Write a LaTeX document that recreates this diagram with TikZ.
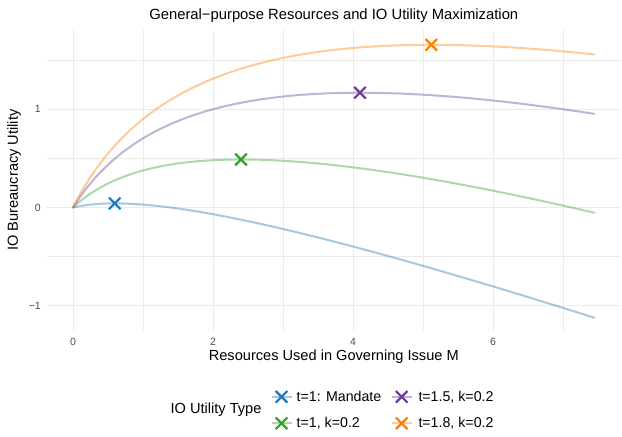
\documentclass[tikz,border=0pt]{standalone}
\usepackage{fontspec}
\setmainfont{Liberation Sans}
\begin{document}
\begin{tikzpicture}[x=1pt, y=-1pt,
  gridmajor/.style={draw=black!8, line width=0.9pt},
  gridminor/.style={draw=black!8, line width=0.5pt},
  ticklbl/.style={text=black!70, font=\fontsize{10.5}{11}\selectfont, inner sep=0pt},
  axtitle/.style={font=\fontsize{14.6}{16}\selectfont, inner sep=0pt},
  curve/.style={line width=2pt, draw opacity=0.4, line cap=round},
  legtxt/.style={font=\fontsize{14.2}{16}\selectfont, inner sep=0pt, anchor=west},
  xmark/.pic={\draw[line width=2.2pt, #1] (-5.8,-5.8) -- (5.8,5.8) (-5.8,5.8) -- (5.8,-5.8);},
]
\definecolor{cblue}{HTML}{1F78B4}
\definecolor{cgreen}{HTML}{33A02C}
\definecolor{cpurple}{HTML}{6A3D9A}
\definecolor{corange}{HTML}{FF7F00}
\useasboundingbox (0,0) rectangle (622,437);
\fill[white] (0,0) rectangle (622,437);

% data-to-page mapping: M -> 73+70M, U -> 207.5-98.3U
\def\px#1{73+70*(#1)}
\def\py#1{207.5-98.3*(#1)}

% grid
\foreach \m in {1,3,5,7} \draw[gridminor] ({\px{\m}},29.6) -- ({\px{\m}},331);
\foreach \u in {-0.5,0.5,1.5} \draw[gridminor] (47,{\py{\u}}) -- (620.6,{\py{\u}});
\foreach \m in {0,2,4,6} \draw[gridmajor] ({\px{\m}},29.6) -- ({\px{\m}},331);
\foreach \u in {-1,0,1} \draw[gridmajor] (47,{\py{\u}}) -- (620.6,{\py{\u}});

% tick labels
\foreach \m in {0,2,4,6} \node[ticklbl] (xt\m) at ({\px{\m}},341.5) {\m};
\node[ticklbl, anchor=east] (yt1) at (41,{\py{1}}) {1};
\node[ticklbl, anchor=east] (yt0) at (41,{\py{0}}) {0};
\node[ticklbl, anchor=east] (ytm1) at (41,{\py{-1}}) {−1};

% utility curves
\draw[curve, cblue]   plot[domain=0:7.45, samples=120, smooth] ({\px{\x}},{\py{0.443*ln(1+\x)-0.2775*\x}});
\draw[curve, cgreen]  plot[domain=0:7.45, samples=120, smooth] ({\px{\x}},{\py{0.9435*ln(1+\x)-0.2775*\x}});
\draw[curve, cpurple] plot[domain=0:7.45, samples=120, smooth] ({\px{\x}},{\py{1.415*ln(1+\x)-0.2775*\x}});
\draw[curve, corange] plot[domain=0:7.45, samples=120, smooth] ({\px{\x}},{\py{1.698*ln(1+\x)-0.2775*\x}});

% optimum markers
\coordinate (optblue)   at ({\px{0.596}},{\py{0.443*ln(1.596)-0.2775*0.596}});
\coordinate (optgreen)  at ({\px{2.4}},{\py{0.9435*ln(3.4)-0.2775*2.4}});
\coordinate (optpurple) at ({\px{4.099}},{\py{1.415*ln(5.099)-0.2775*4.099}});
\coordinate (optorange) at ({\px{5.119}},{\py{1.698*ln(6.119)-0.2775*5.119}});
\pic at (optblue) {xmark=cblue};
\pic at (optgreen) {xmark=cgreen};
\pic at (optpurple) {xmark=cpurple};
\pic at (optorange) {xmark=corange};

% titles
\node[font=\fontsize{14.8}{16}\selectfont, inner sep=0pt] (title) at (333.8,16) {General−purpose Resources and IO Utility Maximization};
\node[axtitle] (xtitle) at (333.8,356.5) {Resources Used in Governing Issue M};
\node[axtitle, rotate=90] (ytitle) at (14,180) {IO Bureaucracy Utility};

% legend
\node[axtitle] (legtitle) at (216,410) {IO Utility Type};
\coordinate (kblue) at (281.5,396.8);
\coordinate (kgreen) at (281.5,423.3);
\coordinate (kpurple) at (401.7,396.8);
\coordinate (korange) at (401.7,423.3);
\foreach \k/\c in {kblue/cblue, kgreen/cgreen, kpurple/cpurple, korange/corange}{
  \draw[curve, \c, line cap=butt] ([xshift=-10pt]\k) -- ([xshift=10pt]\k);
  \pic at (\k) {xmark=\c};
}
\node[legtxt] (lblue) at (296.5,396.8) {t=1: Mandate};
\node[legtxt] (lgreen) at (296.5,423.3) {t=1, k=0.2};
\node[legtxt] (lpurple) at (418.3,396.8) {t=1.5, k=0.2};
\node[legtxt] (lorange) at (418.3,423.3) {t=1.8, k=0.2};
\end{tikzpicture}
\end{document}
